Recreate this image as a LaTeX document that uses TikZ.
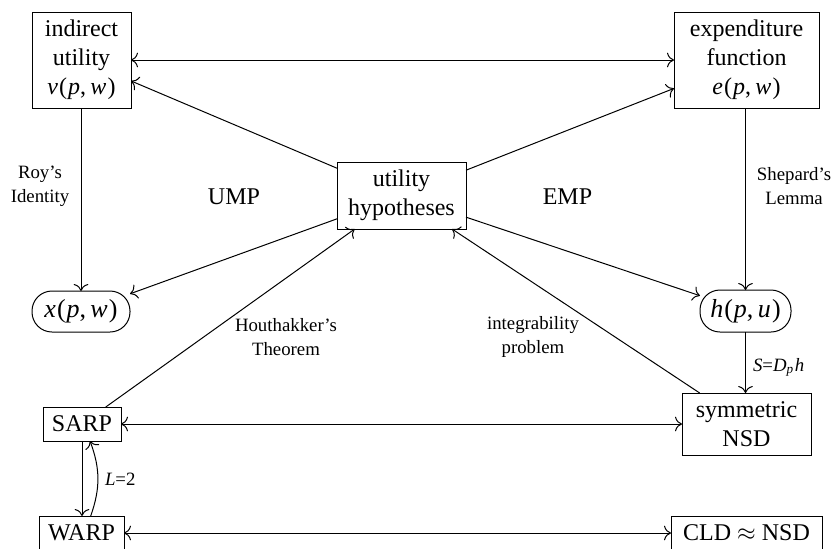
\documentclass[tikz,border=0pt]{standalone}
\usepackage{fontspec}
\setmainfont{Liberation Serif}
\usetikzlibrary{arrows.meta}
\newcommand{\fn}[3]{\textit{#1}\kern0.6pt(\kern0.4pt\textit{#2},\kern2.2pt\textit{#3}\kern0.6pt)}
\begin{document}
\begin{tikzpicture}[x=0.5pt,y=-0.5pt,
  every node/.style={inner sep=0pt,outer sep=0pt},
  box/.style={draw,line width=0.5pt,align=center,font=\fontsize{12}{14.5}\selectfont},
  rbox/.style={box,rounded corners=10pt},
  lab/.style={align=center,font=\fontsize{9.4}{12}\selectfont},
  big/.style={font=\fontsize{12}{14.5}\selectfont},
  conn/.style={line width=0.5pt},
  >={To[scale=1.3]}]
\useasboundingbox (0,0) rectangle (832,548);
\clip (0,0) rectangle (832,548);
% nodes
\node[box,minimum width=49.5pt,minimum height=48pt] (iu) at (81.5,60) {indirect\\utility\\\fn{v}{p}{w}};
\node[box,minimum width=72.5pt,minimum height=48pt] (ef) at (746.5,60) {expenditure\\function\\\fn{e}{p}{w}};
\node[box,minimum width=64.5pt,minimum height=33.5pt] (hyp) at (401.5,195.5) {utility\\hypotheses};
\node[rbox,minimum width=49pt,minimum height=20.5pt,font=\fontsize{13}{14.5}\selectfont] (x) at (81,311.5) {\fn{x}{p}{w}};
\node[rbox,minimum width=45.5pt,minimum height=21pt,font=\fontsize{13}{14.5}\selectfont] (h) at (745.5,311) {\fn{h}{p}{u}};
\node[box,minimum width=39pt,minimum height=17pt] (sarp) at (82,424) {SARP};
\node[box,minimum width=64.5pt,minimum height=31pt] (nsd) at (746.5,424) {symmetric\\NSD};
\node[box,minimum width=42.5pt,minimum height=17pt] (warp) at (81.5,533) {WARP};
\node[box,minimum width=75.5pt,minimum height=17pt] (cld) at (746.5,533) {CLD $\approx$ NSD};
% labels
\node[lab] (roy) at (40,186) {Roy’s\\Identity};
\node[lab] (shep) at (794,186) {Shepard’s\\Lemma};
\node[big] (ump) at (234,197) {UMP};
\node[big] (emp) at (567.5,197) {EMP};
\node[lab] (hou) at (286,337) {Houthakker’s\\Theorem};
\node[lab] (integ) at (533,337) {integrability\\problem};
\node[lab,anchor=west] (sdp) at (753,367) {\textit{S}=\textit{D}\textsubscript{\textit{p}}\kern0.3pt\textit{h}};
\node[lab,anchor=west] (l2) at (105,479) {\textit{L}=2};
% connectors
\draw[conn,<->] (iu) -- (ef);
\draw[conn,->] (hyp) -- (iu);
\draw[conn,->] (hyp) -- (ef);
\draw[conn,->] (hyp) -- (x);
\draw[conn,->] (hyp) -- (h);
\draw[conn,->] (sarp) -- (hyp);
\draw[conn,->] (nsd) -- (hyp);
\draw[conn,->] (iu.south -| x.north) -- (x.north);
\draw[conn,->] (ef.south -| h.north) -- (h.north);
\draw[conn,->] (h.south) -- (h.south |- nsd.north);
\draw[conn,<->] (sarp) -- (nsd);
\draw[conn,->] (sarp.south) -- (sarp.south |- warp.north);
\draw[conn,->] ([xshift=4.6pt]warp.north) to[bend right=20] ([xshift=4pt]sarp.south);
\draw[conn,<->] (warp) -- (cld);
\end{tikzpicture}
\end{document}
